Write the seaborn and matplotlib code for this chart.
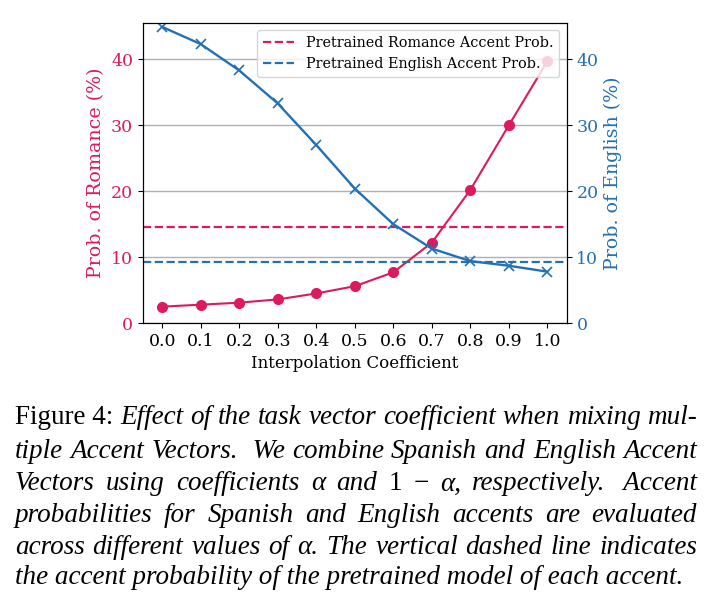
import pandas as pd
import seaborn as sns
import matplotlib.pyplot as plt

# data
coef = [0.0, 0.1, 0.2, 0.3, 0.4, 0.5, 0.6, 0.7, 0.8, 0.9, 1.0]
romance = [2.5, 2.8, 3.1, 3.6, 4.5, 5.6, 7.7, 12.2, 20.2, 30.0, 39.7]
english = [44.9, 42.3, 38.3, 33.3, 27.0, 20.4, 15.0, 11.3, 9.4, 8.7, 7.8]
pre_romance = 14.6
pre_english = 9.3

pink = '#dc1a5e'
blue = '#2470b4'

sns.set_style('ticks', rc={'text.color': 'black', 'axes.labelcolor': 'black',
                           'xtick.color': 'black', 'ytick.color': 'black',
                           'axes.edgecolor': 'black'})
plt.rcParams['font.family'] = ['DejaVu Serif']

df = pd.DataFrame({'coef': coef, 'romance': romance, 'english': english})

fig = plt.figure(figsize=(7.11, 6.04), dpi=100)
ax = fig.add_axes([0.201, 0.465, 0.596, 0.497])
ax2 = ax.twinx()

sns.lineplot(data=df, x='coef', y='romance', ax=ax, color=pink, marker='o',
             markersize=8, markeredgewidth=0, linewidth=1.5)
sns.lineplot(data=df, x='coef', y='english', ax=ax2, color=blue, marker='x',
             markersize=6.5, markeredgewidth=1.2, markeredgecolor=blue, linewidth=1.7)

l1 = ax.axhline(pre_romance, color=pink, ls='--', lw=1.6, label='Pretrained Romance Accent Prob.')
l2 = ax.axhline(pre_english, color=blue, ls='--', lw=1.6, label='Pretrained English Accent Prob.')

for a in (ax, ax2):
    a.set_ylim(0, 45.5)
    a.set_yticks([0, 10, 20, 30, 40])
ax.set_xlim(-0.05, 1.05)
ax.set_xticks(coef)
ax.set_xticklabels([f'{c:.1f}' for c in coef], fontsize=12.5)
ax.grid(axis='y', color='#b0b0b0', lw=1)

ax.set_xlabel('Interpolation Coefficient', fontsize=12)
ax.set_ylabel('Prob. of Romance (%)', fontsize=13.7, color=pink)
ax2.set_ylabel('Prob. of English (%)', fontsize=13.7, color=blue)
ax.tick_params(axis='y', labelcolor=pink, labelsize=12.5)
ax2.tick_params(axis='y', labelcolor=blue, labelsize=12.5)
ax.tick_params(axis='x', labelsize=12.5)

ax2.legend(handles=[l1, l2], loc='upper right', fontsize=10.4, framealpha=0.8,
           handlelength=2.2, borderpad=0.4)

# caption, justified word by word
cap_lines = [
    [('Figure 4:', 'normal'), ('Effect', 'italic'), ('of', 'italic'), ('the', 'italic'), ('task', 'italic'),
     ('vector', 'italic'), ('coefficient', 'italic'), ('when', 'italic'), ('mixing', 'italic'), ('mul-', 'italic')],
    [('tiple', 'italic'), ('Accent', 'italic'), ('Vectors.', 'italic'), (' We', 'italic'), ('combine', 'italic'),
     ('Spanish', 'italic'), ('and', 'italic'), ('English', 'italic'), ('Accent', 'italic')],
    [('Vectors', 'italic'), ('using', 'italic'), ('coefficients', 'italic'), ('α', 'italic'), ('and', 'italic'),
     ('1', 'normal'), ('−', 'normal'), ('α,', 'italic'), ('respectively.', 'italic'), (' Accent', 'italic')],
    [('probabilities', 'italic'), ('for', 'italic'), ('Spanish', 'italic'), ('and', 'italic'), ('English', 'italic'),
     ('accents', 'italic'), ('are', 'italic'), ('evaluated', 'italic')],
    [('across', 'italic'), ('different', 'italic'), ('values', 'italic'), ('of', 'italic'), ('α.', 'italic'),
     ('The', 'italic'), ('vertical', 'italic'), ('dashed', 'italic'), ('line', 'italic'), ('indicates', 'italic')],
    [('the accent probability of the pretrained model of each accent.', 'italic')],
]
cap_y = [418, 451, 484, 516, 547, 578]
x_left, x_right = 15, 697
W, H = 711, 604

renderer = fig.canvas.get_renderer()
for i, (line, yy) in enumerate(zip(cap_lines, cap_y)):
    texts = [fig.text(0, 1 - yy / H, w, style=s, fontsize=19.5, va='center', ha='left',
                      family=['Liberation Serif', 'DejaVu Serif']) for w, s in line]
    widths = [t.get_window_extent(renderer).width for t in texts]
    if len(texts) > 1 and i < len(cap_lines) - 1:
        gap = (x_right - x_left - sum(widths)) / (len(texts) - 1)
    else:
        gap = 5
    x = x_left
    for t, w in zip(texts, widths):
        t.set_x(x / W)
        x += w + gap

fig.savefig('out.png', dpi=100)
